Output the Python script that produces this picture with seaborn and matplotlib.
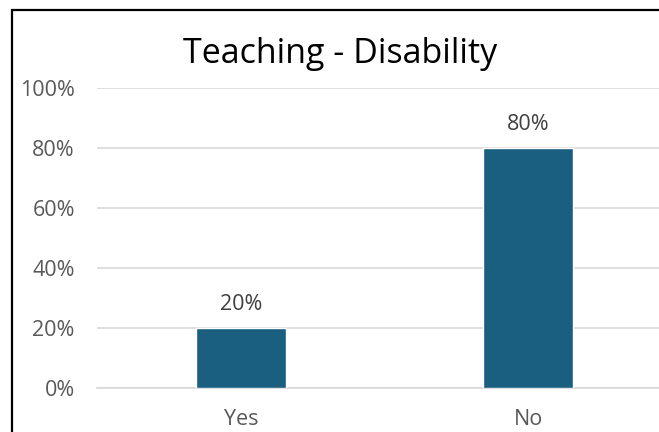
import matplotlib
matplotlib.use("Agg")
import matplotlib.pyplot as plt
import seaborn as sns
import pandas as pd
from matplotlib.patches import Rectangle
from matplotlib.ticker import PercentFormatter

categories = ["Yes", "No"]
values = [20, 80]
yticks = [0, 20, 40, 60, 80, 100]
title = "Teaching - Disability"

sns.set_theme(style="white")
plt.rcParams['font.family'] = ['Open Sans', 'DejaVu Sans']

W, H = 659, 432
fig = plt.figure(figsize=(W / 100, H / 100), dpi=100)
ax = fig.add_axes([97 / W, 1 - 388 / H, (672 - 97) / W, 300 / H])

df = pd.DataFrame({"cat": categories, "val": values})
sns.barplot(data=df, x="cat", y="val", color="#1A5E80", width=0.313,
            saturation=1, ax=ax, zorder=3)

ax.set_ylim(0, 100)
ax.set_yticks(yticks)
ax.yaxis.set_major_formatter(PercentFormatter(decimals=0))
ax.grid(axis="y", color="#D9D9D9", linewidth=1.2, zorder=0)
ax.set_axisbelow(True)
for s in ax.spines.values():
    s.set_visible(False)
ax.spines["bottom"].set_visible(True)
ax.spines["bottom"].set_color("#D9D9D9")
ax.spines["bottom"].set_linewidth(1.2)
ax.set_xlabel("")
ax.set_ylabel("")
ax.tick_params(axis="y", length=0, pad=16, labelsize=15.5, labelcolor="#595959")
ax.tick_params(axis="x", length=0, pad=15, labelsize=15.5, labelcolor="#595959")

for i, v in enumerate(values):
    ax.annotate(f"{v}%", (i, v), xytext=(0, 13), textcoords="offset points",
                ha="center", va="baseline", fontsize=15.5, color="#404040")

fig.text(340 / W, 1 - 63 / H, title, ha="center", va="baseline",
         fontsize=24.5, color="black")

fig.patches.append(Rectangle((12 / W, -0.1), 1.2, 1 - 10 / H + 0.1,
                             transform=fig.transFigure, fill=False,
                             edgecolor="black", linewidth=1.6, zorder=10))

fig.savefig("out.png", dpi=100)
